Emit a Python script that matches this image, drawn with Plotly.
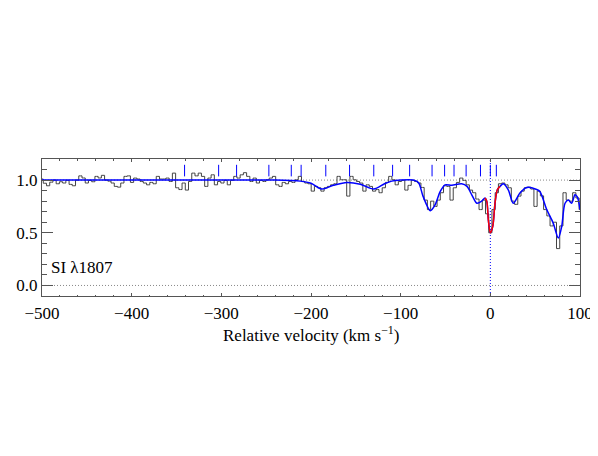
import plotly.graph_objects as go

# observed flux, bins of 3.6 km/s starting at -500.4 km/s
flux_obs = [
    1.01, 0.97, 0.946, 0.98, 1.0, 0.965, 0.984, 0.972, 0.997, 0.959,
    0.946, 1.0, 1.04, 1.02, 0.972, 0.997, 0.984, 1.035, 1.02, 1.045,
    1.0, 0.99, 0.972, 0.94, 0.933, 0.972, 1.035, 1.04,
    0.978, 1.019, 1.01, 0.987, 0.972, 0.955, 0.978, 0.965, 1.035, 1.01,
    1.01, 1.019, 0.987, 1.066, 0.927, 0.91, 0.972, 0.905, 0.987, 1.066,
    1.04, 1.066, 1.035, 0.94, 1.019, 1.05, 0.955, 0.987,
    0.972, 0.997, 0.955, 0.997, 1.035, 1.019, 1.05, 1.07, 1.035, 0.987,
    1.019, 0.972, 0.997, 0.987, 1.003, 1.019, 1.035, 0.955, 0.94, 0.978,
    0.965, 0.987, 0.978, 1.003, 1.035, 0.987, 0.972, 0.965,
    0.895, 0.94, 0.927, 0.895, 0.927, 0.94, 0.955, 0.965, 1.035, 1.003,
    1.003, 0.848, 1.035, 1.003, 0.987, 0.972, 0.895, 0.955, 0.94, 0.895,
    0.91, 0.88, 0.927, 0.978, 1.035, 1.003, 0.955, 0.987,
    0.997, 0.905, 0.95, 0.997, 0.987, 0.972, 0.93, 0.81, 0.72, 0.80,
    0.75, 0.81, 0.88, 0.946, 0.94, 0.81, 0.927, 0.978, 1.019, 0.997,
    0.955, 0.905, 0.88, 0.82, 0.72, 0.81, 0.68, 0.50,
    0.72, 0.88, 0.965, 0.972, 0.955, 0.927, 0.80, 0.77, 0.848, 0.895,
    0.927, 0.933, 0.915, 0.75, 0.895, 0.85, 0.72, 0.66, 0.565, 0.60,
    0.35, 0.565, 0.88, 0.81, 0.80, 0.88, 0.83, 0.72,
]
bin_start = -500.4
bin_width = 3.6
vel_obs = [bin_start + i * bin_width for i in range(len(flux_obs))]

# fitted profile (blue)
vel_fit = [-500, -400, -300, -240, -212, -200, -188, -175, -160, -145,
           -130, -118, -110, -100, -86, -80, -75, -67, -61.6, -56,
           -50.5, -43, -32, -26, -20.7, -15, -9.6, -6, -4, -2.2,
           0, 2.7, 5.2, 7.8, 10.8, 14.5, 20, 25.6, 33, 40.6,
           51.7, 55.4, 62.9, 70.2, 75.8, 79.6, 83.3, 87, 90.7, 94.4,
           97, 100]
flux_fit = [1.0, 1.0, 1.0, 1.0, 0.99, 0.97, 0.915, 0.95, 0.977, 0.96,
            0.915, 0.965, 0.99, 1.0, 1.0, 0.975, 0.845, 0.71, 0.765, 0.89,
            0.955, 0.95, 0.965, 0.94, 0.86, 0.78, 0.80, 0.83, 0.80, 0.62,
            0.50, 0.56, 0.78, 0.908, 0.94, 0.965, 0.908, 0.78, 0.877, 0.93,
            0.91, 0.89, 0.72, 0.59, 0.45, 0.56, 0.78, 0.81, 0.78, 0.86,
            0.84, 0.72]

# SI component (red)
vel_si = [-6, -4, -2.2, 0, 2.7, 5.2, 7.8, 10.8]
flux_si = [0.83, 0.80, 0.62, 0.50, 0.56, 0.78, 0.908, 0.94]

# component positions (top markers)
comp_vel = [-341, -303, -283, -247, -222, -211, -183.5, -157, -130, -109,
            -90, -65, -51, -40.5, -27, -11, 0, 6.7]

fig = go.Figure()

fig.add_trace(go.Scatter(
    x=[-500, 100], y=[1, 1], mode="lines",
    line=dict(color="#888888", width=1, dash="1px,2px"), hoverinfo="skip"))
fig.add_trace(go.Scatter(
    x=[-500, 100], y=[0, 0], mode="lines",
    line=dict(color="#888888", width=1, dash="1px,2px"), hoverinfo="skip"))
fig.add_trace(go.Scatter(
    x=[0, 0], y=[-0.1, 1.2], mode="lines",
    line=dict(color="#0000ff", width=1, dash="1px,2px"), hoverinfo="skip"))

fig.add_trace(go.Scatter(
    x=vel_obs, y=flux_obs, mode="lines", line_shape="hvh",
    line=dict(color="#444444", width=1)))

fig.add_trace(go.Scatter(
    x=vel_fit, y=flux_fit, mode="lines", line_shape="spline",
    line=dict(color="#0000ff", width=1.5, smoothing=0.8)))

fig.add_trace(go.Scatter(
    x=vel_si, y=flux_si, mode="lines", line_shape="spline",
    line=dict(color="#ff0000", width=1.5, smoothing=0.8)))

mx, my = [], []
for v in comp_vel:
    mx += [v, v, None]
    my += [1.035, 1.145, None]
fig.add_trace(go.Scatter(
    x=mx, y=my, mode="lines", line=dict(color="#0000ff", width=1),
    hoverinfo="skip"))

serif = "Liberation Serif"

fig.add_annotation(
    x=-492, y=0.17, xref="x", yref="y", text="SI λ1807",
    showarrow=False, xanchor="left", yanchor="middle",
    font=dict(family=serif, size=17, color="black"))

fig.add_annotation(
    x=0.5, y=-0.28, xref="paper", yref="paper",
    text="Relative velocity (km s<sup>−1</sup>)",
    showarrow=False, xanchor="center", yanchor="middle",
    font=dict(family=serif, size=17, color="black"))

axis_col = "#555555"
fig.update_layout(
    width=598, height=456,
    margin=dict(l=34, r=26, t=151, b=168),
    paper_bgcolor="white", plot_bgcolor="white",
    showlegend=False,
    font=dict(family=serif, size=17, color="black"),
    xaxis=dict(
        range=[-500, 100], showgrid=False, zeroline=False, automargin=False,
        showline=True, linecolor=axis_col, linewidth=1, mirror="allticks",
        ticks="inside", ticklen=3, tickcolor=axis_col,
        tickfont=dict(family=serif, size=17, color="black"),
        ticklabelstandoff=2,
        tickvals=[-500, -400, -300, -200, -100, 0, 100],
        minor=dict(ticks="inside", ticklen=1.5, dtick=20,
                   tickcolor=axis_col, showgrid=False),
    ),
    yaxis=dict(
        range=[-0.1, 1.2], showgrid=False, zeroline=False, automargin=False,
        showline=True, linecolor=axis_col, linewidth=1, mirror="allticks",
        ticks="inside", ticklen=11, tickcolor=axis_col,
        tickfont=dict(family=serif, size=17, color="black"),
        tickvals=[0, 0.5, 1.0], tickformat=".1f",
        minor=dict(ticks="inside", ticklen=5, dtick=0.1,
                   tickcolor=axis_col, showgrid=False),
    ),
)

fig.write_html("out.html")
